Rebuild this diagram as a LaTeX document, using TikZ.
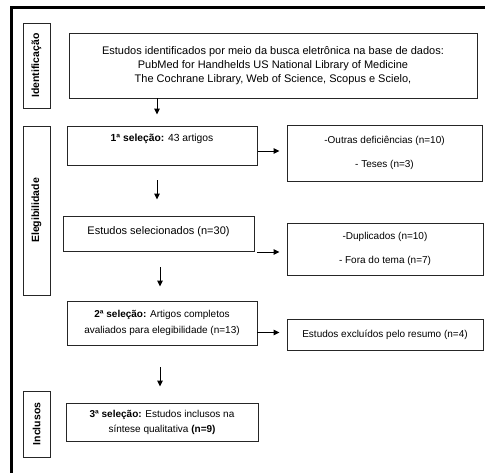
\documentclass[tikz,border=0pt]{standalone}
\usepackage{fontspec}
\setmainfont{Liberation Sans}
\usetikzlibrary{arrows.meta}
\tikzset{
    caixa/.style={draw=black!85, line width=0.9pt, align=center, inner sep=0pt, font=\fontsize{10}{14}\selectfont},
    rotulo/.style={draw=black!85, line width=0.9pt, rotate=90, inner sep=0pt, minimum height=27pt, font=\fontsize{10.5}{12}\selectfont\bfseries},
    seta/.style={-{Triangle[length=6pt,width=5.5pt]}, line width=1pt}
}

\begin{document}
\begin{tikzpicture}[x=1pt, y=-1pt]
        \useasboundingbox (0,0) rectangle (485,472);
        \clip (0,0) rectangle (485,472);
        \draw[line width=3pt] (11.5,480) |- (490,7.5);
        \node (lident) [rotulo, minimum width=85pt] at (36.5, 65.5) {Identificação};
        \node (leleg) [rotulo, minimum width=169pt] at (36.5, 210.5) {Elegibilidade};
        \node (lincl) [rotulo, minimum width=66pt] at (36.5, 424) {Inclusos};
        \node (ident) [caixa, minimum width=408pt, minimum height=65pt, font=\fontsize{11}{14}\selectfont] at (273, 65.5) {Estudos identificados por meio da busca eletrônica na base de dados:\\PubMed for Handhelds US National Library of Medicine\\The Cochrane Library, Web of Science, Scopus e Scielo,};
        \node (sel1) [caixa, minimum width=190pt, text height=15pt, text depth=24pt, font=\fontsize{10.3}{14}\selectfont] at (162, 145.5) {\textbf{1ª seleção:} 43 artigos};
        \node (outras) [caixa, minimum width=195pt, minimum height=56pt] at (384.5, 153) {-Outras deficiências (n=10)\\[10pt]- Teses (n=3)};
        \node (selec) [caixa, minimum width=191pt, text height=18pt, text depth=17pt, font=\fontsize{11}{14}\selectfont] at (158.5, 233.5) {Estudos selecionados (n=30)};
        \node (dup) [caixa, minimum width=196pt, minimum height=52pt] at (385, 249) {-Duplicados (n=10)\\[10pt]- Fora do tema (n=7)};
        \node (sel2) [caixa, minimum width=190pt, minimum height=44pt, font=\fontsize{10}{16}\selectfont] at (162, 323) {\textbf{2ª seleção:} Artigos completos\\avaliados para elegibilidade (n=13)};
        \node (excl) [caixa, minimum width=196pt, minimum height=31pt] at (385, 334.5) {Estudos excluídos pelo resumo (n=4)};
        \node (sel3) [caixa, minimum width=192pt, minimum height=38pt, font=\fontsize{10}{15}\selectfont] at (162, 422) {\textbf{3ª seleção:} Estudos inclusos na\\síntese qualitativa \textbf{(n=9)}};
        \draw[seta, shorten >=11pt] ([xshift=-5pt]sel1.north |- ident.south) -- ([xshift=-5pt]sel1.north);
        \draw[seta, shorten <=15pt, shorten >=16pt] ([xshift=-1.5pt]selec.north |- sel1.south) -- ([xshift=-1.5pt]selec.north);
        \draw[seta, shorten <=16pt, shorten >=14pt] ([xshift=-2pt]sel2.north |- selec.south) -- ([xshift=-2pt]sel2.north);
        \draw[seta, shorten <=22pt, shorten >=16pt] ([xshift=-2pt]sel2.south) -- ([xshift=-2pt]sel3.north);
        \draw[seta, shorten <=1pt, shorten >=7pt] ([yshift=2pt]outras.west -| sel1.east) -- ([yshift=2pt]outras.west);
        \draw[seta, shorten <=3pt, shorten >=7pt] ([yshift=-3pt]dup.west -| selec.east) -- ([yshift=-3pt]dup.west);
        \draw[seta, shorten >=7pt] ([yshift=2pt]excl.west -| sel2.east) -- ([yshift=2pt]excl.west);
\end{tikzpicture}
\end{document}
